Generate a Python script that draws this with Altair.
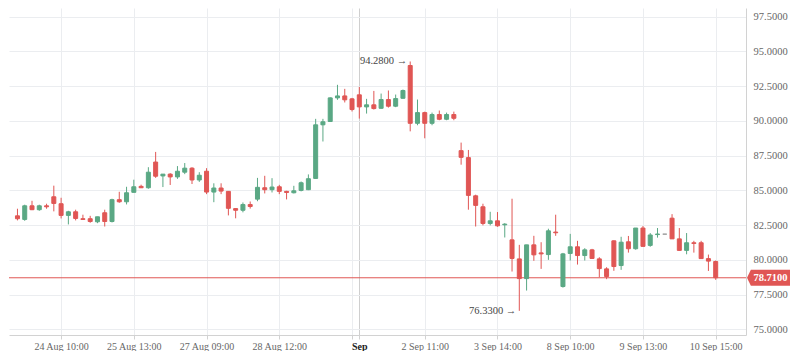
import altair as alt
import pandas as pd
import numpy as np

opens = [83.17, 82.91, 83.89, 83.61, 83.89, 84.54, 84.04, 83.20, 83.46, 82.96,
         82.96, 82.74, 83.39, 82.76, 84.33, 84.18, 84.86, 85.29, 85.19, 87.04,
         86.04, 86.17, 85.97, 86.31, 86.60, 85.75, 86.38, 84.88, 85.17, 84.93,
         83.69, 83.57, 83.98, 84.37, 85.19, 85.05, 85.26, 84.93, 84.83, 85.00,
         85.05, 85.86, 89.72, 89.96, 91.66, 91.80, 91.59, 91.88, 91.01, 91.16,
         90.91, 91.54, 91.06, 91.63, 93.99, 89.83, 90.60, 89.83, 90.46, 90.12,
         90.46, 87.86, 87.36, 84.61, 83.82, 82.62, 82.81, 82.52, 81.44, 80.07,
         78.65, 81.08, 80.50, 80.38, 82.00, 78.08, 80.46, 80.94, 80.31, 80.72,
         80.07, 79.35, 81.37, 79.59, 81.30, 80.80, 82.29, 81.04, 81.82, 81.85,
         83.00, 81.51, 80.68, 81.23, 81.23, 80.09, 79.88]
highs = [83.68, 83.97, 84.25, 83.97, 84.04, 85.34, 84.47, 83.53, 83.61, 83.25,
         83.17, 83.10, 83.61, 84.40, 84.90, 85.26, 85.77, 85.41, 86.67, 87.77,
         86.17, 86.24, 86.75, 86.97, 86.67, 86.31, 86.60, 85.51, 85.51, 84.95,
         83.71, 84.13, 84.20, 85.90, 86.05, 85.88, 85.40, 84.97, 85.33, 85.64,
         86.15, 90.15, 90.15, 91.70, 92.60, 92.31, 91.66, 92.45, 91.59, 92.16,
         91.97, 92.19, 91.90, 92.26, 94.28, 91.54, 90.67, 90.60, 90.75, 90.60,
         90.67, 88.44, 87.91, 84.69, 84.04, 83.46, 83.44, 82.64, 84.40, 81.08,
         81.08, 81.73, 81.27, 82.24, 83.25, 80.50, 81.87, 81.37, 80.84, 80.79,
         80.19, 79.47, 81.40, 81.66, 81.72, 82.29, 82.43, 81.93, 82.29, 81.85,
         83.29, 82.29, 81.93, 81.37, 81.37, 80.38, 79.95]
lows = [82.84, 82.81, 83.58, 83.53, 83.68, 83.49, 82.98, 82.55, 82.84, 82.89,
        82.67, 82.64, 82.40, 82.69, 84.11, 83.99, 84.86, 85.17, 85.12, 85.90,
        85.24, 85.39, 85.83, 86.17, 85.46, 85.61, 84.73, 84.15, 84.73, 83.20,
        82.99, 83.42, 83.69, 84.22, 84.78, 84.85, 84.73, 84.35, 84.78, 84.93,
        85.02, 85.84, 88.52, 89.94, 91.52, 91.33, 90.68, 90.17, 90.53, 90.82,
        90.88, 90.96, 90.99, 91.61, 89.25, 89.69, 88.75, 89.69, 90.05, 90.05,
        90.05, 86.85, 83.61, 82.40, 82.48, 82.48, 82.38, 81.61, 79.16, 76.33,
        77.79, 79.93, 79.35, 80.00, 81.73, 78.00, 79.95, 79.66, 79.95, 80.08,
        78.75, 78.61, 79.21, 79.28, 80.52, 80.73, 80.95, 80.94, 81.60, 81.85,
        81.50, 80.66, 80.40, 80.52, 80.07, 79.20, 78.56]
closes = [82.96, 83.89, 83.61, 83.89, 83.82, 84.06, 83.20, 83.46, 82.98, 82.91,
          82.76, 83.10, 82.76, 84.33, 84.18, 84.83, 85.26, 85.19, 86.31, 86.02,
          86.17, 85.97, 86.38, 86.60, 85.75, 86.09, 84.88, 85.17, 84.95, 83.71,
          83.57, 83.98, 83.84, 85.22, 85.05, 85.24, 84.93, 84.85, 84.97, 85.55,
          85.84, 89.72, 89.94, 91.66, 91.80, 91.52, 90.82, 91.01, 91.16, 90.89,
          91.54, 91.06, 91.61, 92.19, 89.83, 90.60, 89.83, 90.46, 90.12, 90.46,
          90.19, 87.38, 84.64, 83.92, 82.62, 82.81, 82.45, 82.57, 80.10, 78.65,
          81.08, 80.36, 80.43, 82.09, 81.95, 80.43, 80.94, 80.31, 80.72, 80.10,
          79.37, 78.80, 79.52, 81.27, 80.80, 82.29, 80.97, 81.79, 81.86, 81.85,
          81.51, 80.68, 81.23, 81.18, 80.09, 79.91, 78.71]

tick_idx = [6, 16, 26, 36, 46, 47, 56, 66, 76, 86, 96]
tick_labels = ["24 Aug 10:00", "25 Aug 13:00", "27 Aug 09:00", "28 Aug 12:00", "",
               "Sep", "2 Sep 11:00", "3 Sep 14:00", "8 Sep 10:00", "9 Sep 13:00",
               "10 Sep 15:00"]
month_idx = 47
y_ticks = [75.0, 77.5, 80.0, 82.5, 85.0, 87.5, 90.0, 92.5, 95.0, 97.5]

RED = "#e05654"
GREEN = "#5aa884"
FLAT = "#9a9a9a"
GRID = "#ebedf0"
AXIS = "#d2d2d2"
FONT = "Liberation Serif"

W, H = 737, 327

df = pd.DataFrame({"i": np.arange(len(opens)), "open": opens, "high": highs,
                   "low": lows, "close": closes})
df["blo"] = df[["open", "close"]].min(axis=1)
df["bhi"] = df[["open", "close"]].max(axis=1)
df["dir"] = np.where(df["close"] > df["open"], "up",
                     np.where(df["close"] < df["open"], "down", "flat"))

label_expr = "".join(f"datum.value == {v} ? '{t}' : " for v, t in zip(tick_idx, tick_labels)) + "''"

xscale = alt.Scale(domain=[-0.475, 99.48], nice=False, zero=False)
yscale = alt.Scale(domain=[74.59, 98.13], nice=False, zero=False)

x_axis = alt.Axis(values=tick_idx, labelExpr=label_expr, title=None, grid=True,
                  gridColor={"condition": {"test": f"datum.value == {month_idx}", "value": "#cfcfcf"}, "value": GRID},
                  domainColor=AXIS, tickColor=AXIS, tickSize=4, labelFont=FONT,
                  labelFontSize=10,
                  labelColor={"condition": {"test": f"datum.value == {month_idx}", "value": "#222"}, "value": "#666"},
                  labelFontWeight={"condition": {"test": f"datum.value == {month_idx}", "value": "bold"}, "value": "normal"},
                  labelPadding=2, labelOverlap=False, labelFlush=False)
y_axis = alt.Axis(orient="right", values=y_ticks, format=".4f", title=None, grid=True,
                  gridColor=GRID, ticks=False, labelPadding=7, domainColor=AXIS,
                  labelFont=FONT, labelFontSize=10.5, labelColor="#666",
                  labelOverlap=False, labelFlush=False)


def X(field):
    return alt.X(field, scale=xscale, axis=x_axis)


def Y(field):
    return alt.Y(field, scale=yscale, axis=y_axis)


color = alt.Color("dir:N", scale=alt.Scale(domain=["up", "down", "flat"], range=[GREEN, RED, FLAT]), legend=None)

base = alt.Chart(df)
wicks = base.mark_rule(strokeWidth=1).encode(
    x=X("i:Q"), y=Y("low:Q"), y2="high:Q", color=color,
)
bodies = base.mark_bar(size=4, strokeWidth=1).encode(
    x=X("i:Q"), y=Y("blo:Q"), y2="bhi:Q", color=color, stroke=color,
)

last = pd.DataFrame({"price": [closes[-1]], "label": [f"{closes[-1]:.4f}"]})
price_line = alt.Chart(last).mark_rule(color=RED, strokeWidth=1).encode(
    y=Y("price:Q"))
box_path = "M -1 0 L -0.82 -0.37 L 1 -0.37 L 1 0.37 L -0.82 0.37 Z"
price_box = alt.Chart(last).mark_point(shape=box_path, size=1849, filled=True,
                                       color=RED, opacity=1, strokeWidth=0).encode(
    x=alt.value(759.5), y=Y("price:Q"))
price_txt = alt.Chart(last).mark_text(color="white", font=FONT, fontSize=10.5,
                                      fontWeight="bold").encode(
    x=alt.value(761.5), y=Y("price:Q"), text="label:N")

imax = int(np.argmax(highs))
imin = int(np.argmin(lows))
ann = pd.DataFrame({"i": [imax, imin], "v": [highs[imax], lows[imin]],
                    "txt": [f"{highs[imax]:.4f} →", f"{lows[imin]:.4f} →"]})
ann_txt = alt.Chart(ann).mark_text(align="right", baseline="middle", dx=-3,
                                   font=FONT, fontSize=10.5, color="#444").encode(
    x=X("i:Q"), y=Y("v:Q"), text="txt:N")

chart = alt.layer(price_line, wicks, bodies, ann_txt, price_box, price_txt).properties(
    width=W, height=H, padding=0
).configure_view(stroke=None)

chart.save("out.html", embed_options={"renderer": "svg", "actions": False})
